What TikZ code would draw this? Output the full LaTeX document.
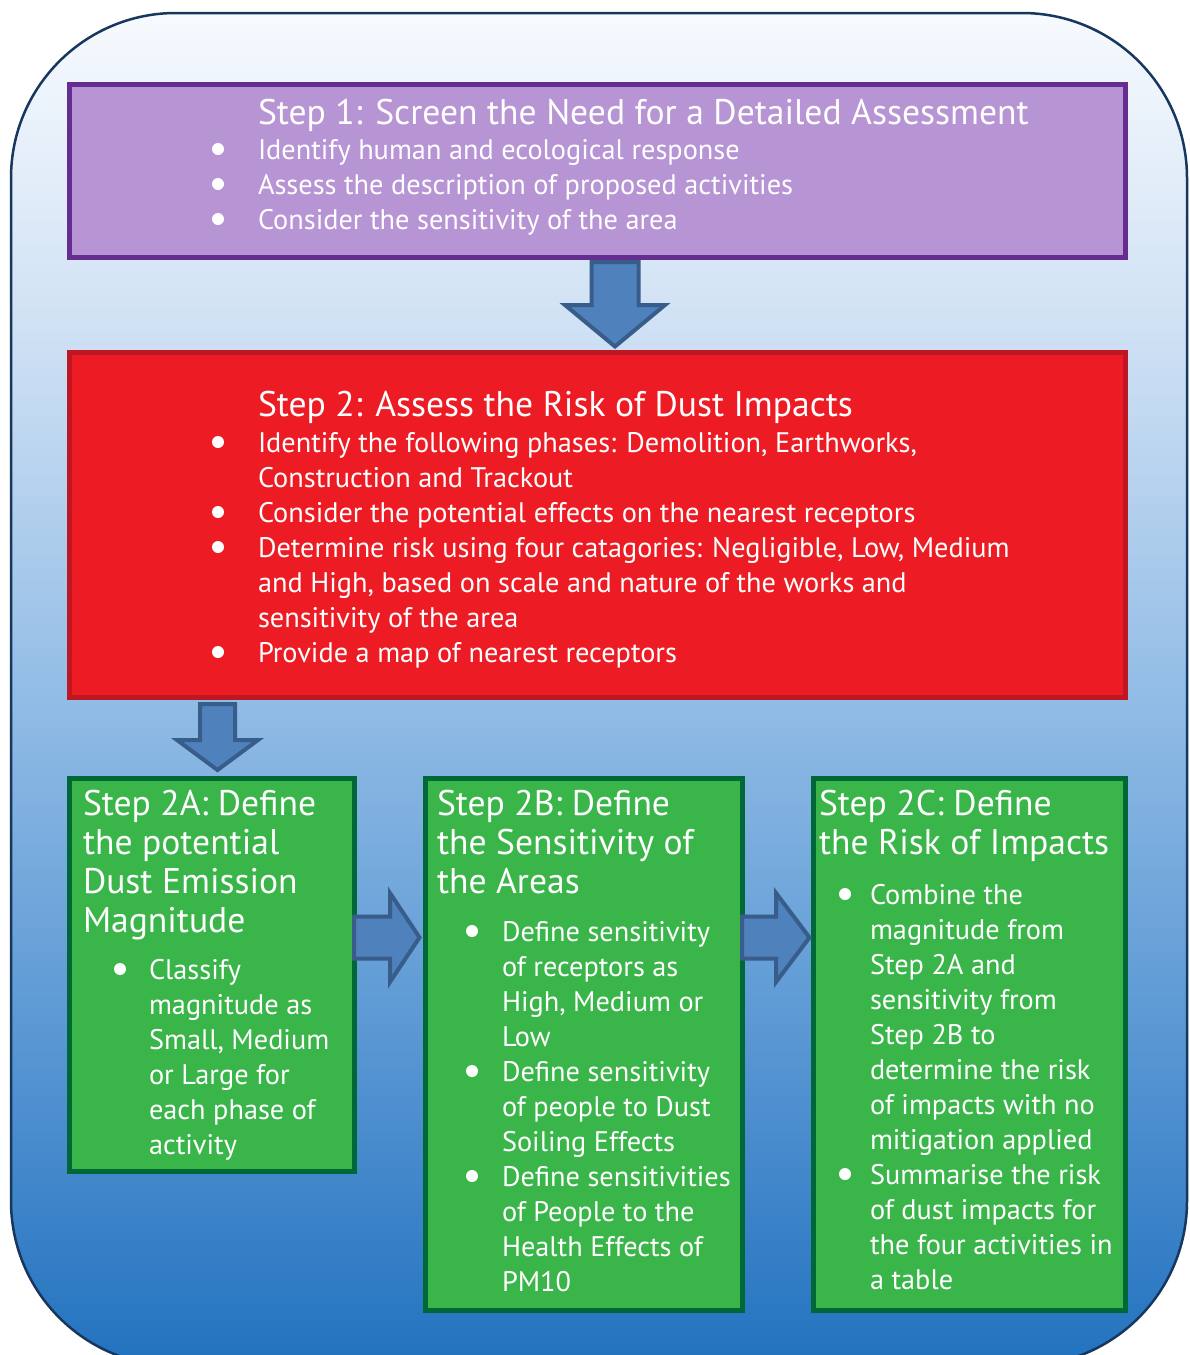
\documentclass[tikz,border=0pt]{standalone}
\usepackage{fontspec}
\setmainfont{PT Sans}
\usetikzlibrary{calc}
\definecolor{bgA}{HTML}{F7FAFE}
\definecolor{bgB}{HTML}{CCDFF3}
\definecolor{bgC}{HTML}{93BDE6}
\definecolor{bgD}{HTML}{5B98D4}
\definecolor{bgE}{HTML}{2272BF}
\definecolor{outerline}{HTML}{17375E}
\definecolor{purfill}{HTML}{B794D4}
\definecolor{purline}{HTML}{662D91}
\definecolor{redfill}{HTML}{ED1C24}
\definecolor{redline}{HTML}{BE1622}
\definecolor{grnfill}{HTML}{3AB54A}
\definecolor{grnline}{HTML}{006837}
\definecolor{arrfill}{HTML}{4F81BD}
\definecolor{arrline}{HTML}{385D8A}
\pgfdeclareverticalshading{bgshade}{100bp}{color(0bp)=(bgE); color(25bp)=(bgE); color(37.5bp)=(bgD); color(50bp)=(bgC); color(62.5bp)=(bgB); color(75bp)=(bgA); color(100bp)=(bgA)}
\newcommand\titlefont{\fontsize{35.6}{43}\selectfont}
\newcommand\gtitlefont{\fontsize{35.6}{39}\selectfont}
\newcommand\bodyfont{\fontsize{28.3}{35}\selectfont}
\begin{document}
\begin{tikzpicture}[x=1pt,y=-1pt,
  box/.style={rectangle, line width=5pt, inner sep=0pt, outer sep=0pt, anchor=north west},
  purbox/.style={box, fill=purfill, draw=purline},
  redbox/.style={box, fill=redfill, draw=redline},
  grnbox/.style={box, fill=grnfill, draw=grnline},
  txt/.style={text=white, inner sep=0pt, outer sep=0pt, anchor=base west, align=left},
  ttl/.style={txt, font=\titlefont},
  gttl/.style={txt, font=\gtitlefont},
  itm/.style={txt, font=\bodyfont},
  barrow/.style={fill=arrfill, draw=arrline, line width=4pt, line join=miter},
  dot/.style={fill=white}
]
\useasboundingbox (0,0) rectangle (1189,1355);
\clip (0,0) rectangle (1189,1355);
% background
\shade[shading=bgshade, draw=outerline, line width=2.5pt, rounded corners=165pt]
  (11,13) rectangle (1187,1366);

% boxes
\node[purbox, minimum width=1056pt, minimum height=173.5pt] (s1) at (69,84) {};
\node[redbox, minimum width=1056pt, minimum height=344.5pt] (s2) at (69,352.5) {};
\node[grnbox, minimum width=285pt, minimum height=393pt] (s2a) at (69,778) {};
\node[grnbox, minimum width=316.5pt, minimum height=532pt] (s2b) at (425.5,778) {};
\node[grnbox, minimum width=312.5pt, minimum height=532pt] (s2c) at (813,778) {};

% arrows
\coordinate (a1s) at ($(s1.south)+(18,0)$);
\coordinate (a1e) at ($(s2.north)+(18,0)$);
\draw[barrow] ($(a1s)+(-23.5,4.5)$) -- ($(a1s)+(23.5,4.5)$) -- ($(a1e)+(23.5,-47.5)$)
  -- ($(a1e)+(50,-47.5)$) -- ($(a1e)+(0,-6)$) -- ($(a1e)+(-50,-47.5)$)
  -- ($(a1e)+(-23.5,-47.5)$) -- cycle;
\coordinate (a2s) at ($(s2.south -| s2a.north)+(6,0)$);
\coordinate (a2e) at ($(s2a.north)+(6,0)$);
\draw[barrow] ($(a2s)+(-17.5,7)$) -- ($(a2s)+(17.5,7)$) -- ($(a2e)+(17.5,-38)$)
  -- ($(a2e)+(40.5,-38)$) -- ($(a2e)+(0,-8)$) -- ($(a2e)+(-40.5,-38)$)
  -- ($(a2e)+(-17.5,-38)$) -- cycle;
\coordinate (r1s) at ($(s2a.east)+(0,-37)$);
\coordinate (r1e) at ($(s2b.west |- r1s)$);
\draw[barrow] ($(r1s)+(0,-21)$) -- ($(r1e)+(-35.5,-21)$) -- ($(r1e)+(-35.5,-44.5)$)
  -- ($(r1e)+(-6,0)$) -- ($(r1e)+(-35.5,44.5)$) -- ($(r1e)+(-35.5,21)$)
  -- ($(r1s)+(0,21)$) -- cycle;
\coordinate (r2s) at ($(s2b.east |- r1s)$);
\coordinate (r2e) at ($(s2c.west |- r1s)$);
\draw[barrow] ($(r2s)+(0,-21)$) -- ($(r2e)+(-37,-21)$) -- ($(r2e)+(-37,-44.5)$)
  -- ($(r2e)+(-3.5,0)$) -- ($(r2e)+(-37,44.5)$) -- ($(r2e)+(-37,21)$)
  -- ($(r2s)+(0,21)$) -- cycle;

% Step 1 text (anchor = baseline of last line)
\node[ttl] (t1) at (258,124) {Step 1: Screen the Need for a Detailed Assessment};
\node[itm] (t1a) at (258,159) {Identify human and ecological response};
\node[itm] (t1b) at (258,194) {Assess the description of proposed activities};
\node[itm] (t1c) at (258,229) {Consider the sensitivity of the area};
\foreach \n in {t1a,t1b,t1c} \fill[dot] ($(\n.base west)+(-40,-10)$) circle (6);

% Step 2 text
\node[ttl] (t2) at (258,416) {Step 2: Assess the Risk of Dust Impacts};
\node[itm] (t2a) at (258,487) {Identify the following phases: Demolition, Earthworks,\\Construction and Trackout};
\node[itm] (t2b) at (258,522) {Consider the potential effects on the nearest receptors};
\node[itm] (t2c) at (258,627) {Determine risk using four catagories: Negligible, Low, Medium\\and High, based on scale and nature of the works and\\sensitivity of the area};
\node[itm] (t2d) at (258,662) {Provide a map of nearest receptors};
\foreach \y in {452,522,557,662} \fill[dot] (218,\y-10) circle (6);

% Step 2A text
\node[gttl] (ta) at (83,932) {Step 2A: Define\\the potential\\Dust Emission\\Magnitude};
\node[itm] (taa) at (149,1154) {Classify\\magnitude as\\Small, Medium\\or Large for\\each phase of\\activity};
\fill[dot] (120,969) circle (6);

% Step 2B text
\node[gttl] (tb) at (437,893) {Step 2B: Define\\the Sensitivity of\\the Areas};
\node[itm] (tba) at (502,1046) {Define sensitivity\\of receptors as\\High, Medium or\\Low};
\node[itm] (tbb) at (502,1151) {Define sensitivity\\of people to Dust\\Soiling Effects};
\node[itm] (tbc) at (502,1291) {Define sensitivities\\of People to the\\Health Effects of\\PM10};
\foreach \y in {941,1081,1186} \fill[dot] (472,\y-10) circle (6);

% Step 2C text
\node[gttl] (tc) at (819,854) {Step 2C: Define\\the Risk of Impacts};
\node[itm] (tca) at (870,1149) {Combine the\\magnitude from\\Step 2A and\\sensitivity from\\Step 2B to\\determine the risk\\of impacts with no\\mitigation applied};
\node[itm] (tcb) at (870,1289) {Summarise the risk\\of dust impacts for\\the four activities in\\a table};
\foreach \y in {904,1184} \fill[dot] (845,\y-10) circle (6);
\end{tikzpicture}
\end{document}
